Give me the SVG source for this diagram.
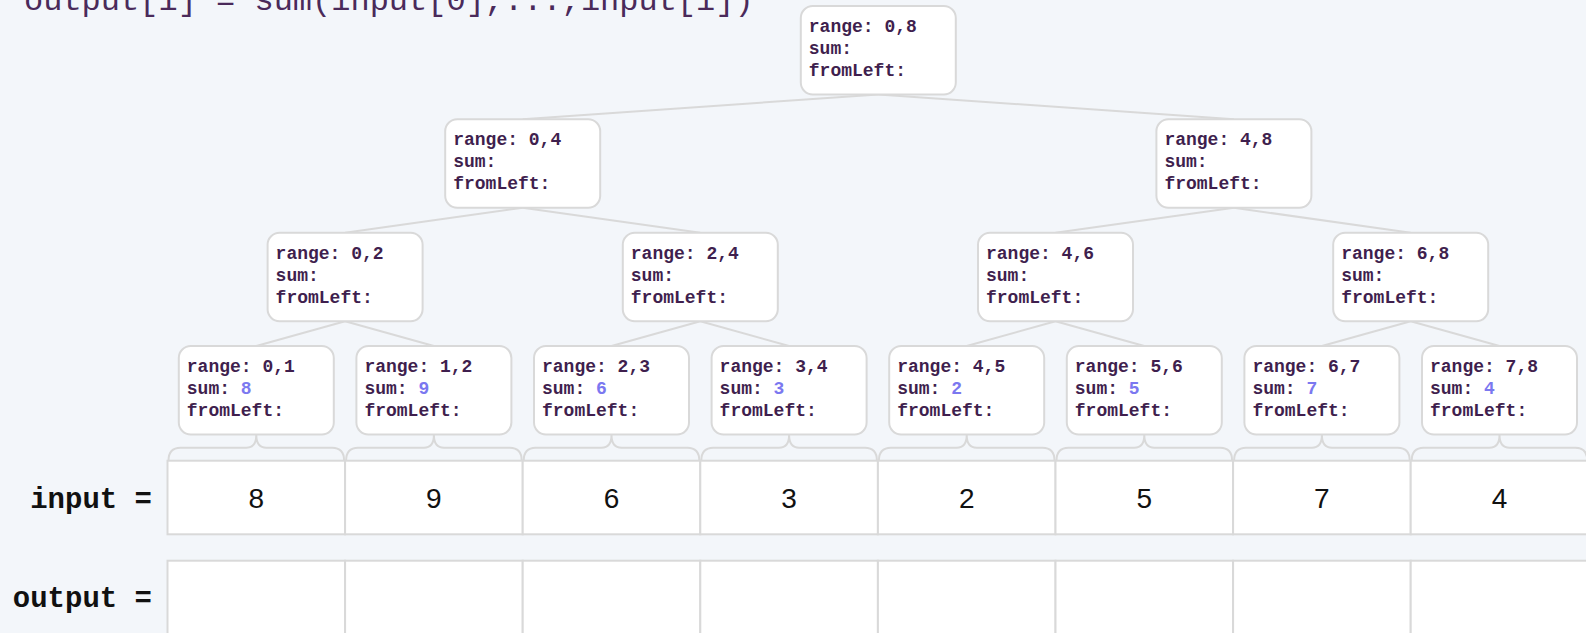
<svg xmlns="http://www.w3.org/2000/svg" width="1586" height="633" viewBox="0 0 1586 633">
<style>
.bg{fill:#f3f6fa}
.box{fill:#ffffff;stroke:#d9d9d9;stroke-width:2}
.t{font-family:"Liberation Mono","Courier New",monospace;font-weight:bold;font-size:18px;fill:#3f1f4e}
.v{fill:#7b78f0}
.edge{stroke:#d9d9d9;stroke-width:2;fill:none}
.brace{stroke:#d9d9d9;stroke-width:2;fill:none}
.cell{fill:#ffffff;stroke:#d9d9d9;stroke-width:2}
.num{font-family:"Liberation Sans",Arial,sans-serif;font-size:28px;fill:#111111;text-anchor:middle}
.lbl{font-family:"Liberation Mono","Courier New",monospace;font-weight:bold;font-size:29px;fill:#111111;text-anchor:end}
.title{font-family:"Liberation Mono","Courier New",monospace;font-size:32px;fill:#4a2a5a}
</style>
<defs>
<path id="br" d="M1,25.7 Q1,12.7 13,12.7 H78.8 Q88.8,12.7 88.8,0 Q88.8,12.7 98.8,12.7 H164.6 Q176.6,12.7 176.6,25.7"/>
<rect id="bx" x="0" y="0" width="155" height="88.5" rx="12" ry="12"/>
</defs>
<rect class="bg" x="0" y="0" width="1586" height="633"/>
<text class="title" x="24" y="10">output[i] = sum(input[0],...,input[i])</text>

<g id="connectors">
<line class="edge" x1="878.3" y1="94.5" x2="522.7" y2="119.3"/>
<line class="edge" x1="878.3" y1="94.5" x2="1233.9" y2="119.3"/>
<line class="edge" x1="522.7" y1="207.8" x2="345.1" y2="232.7"/>
<line class="edge" x1="522.7" y1="207.8" x2="700.3" y2="232.7"/>
<line class="edge" x1="1233.9" y1="207.8" x2="1055.5" y2="232.7"/>
<line class="edge" x1="1233.9" y1="207.8" x2="1410.7" y2="232.7"/>
<line class="edge" x1="345.1" y1="321.2" x2="256.3" y2="346"/>
<line class="edge" x1="345.1" y1="321.2" x2="433.9" y2="346"/>
<line class="edge" x1="700.3" y1="321.2" x2="611.5" y2="346"/>
<line class="edge" x1="700.3" y1="321.2" x2="789.1" y2="346"/>
<line class="edge" x1="1055.5" y1="321.2" x2="966.7" y2="346"/>
<line class="edge" x1="1055.5" y1="321.2" x2="1144.3" y2="346"/>
<line class="edge" x1="1410.7" y1="321.2" x2="1321.9" y2="346"/>
<line class="edge" x1="1410.7" y1="321.2" x2="1499.5" y2="346"/>
</g>

<g id="n-0-8" transform="translate(800.8,6)"><use href="#bx" class="box"/><text class="t" x="8" y="26">range: 0,8</text><text class="t" x="8" y="48">sum:</text><text class="t" x="8" y="70">fromLeft:</text></g>
<g id="n-0-4" transform="translate(445.2,119.3)"><use href="#bx" class="box"/><text class="t" x="8" y="26">range: 0,4</text><text class="t" x="8" y="48">sum:</text><text class="t" x="8" y="70">fromLeft:</text></g>
<g id="n-4-8" transform="translate(1156.4,119.3)"><use href="#bx" class="box"/><text class="t" x="8" y="26">range: 4,8</text><text class="t" x="8" y="48">sum:</text><text class="t" x="8" y="70">fromLeft:</text></g>
<g id="n-0-2" transform="translate(267.6,232.7)"><use href="#bx" class="box"/><text class="t" x="8" y="26">range: 0,2</text><text class="t" x="8" y="48">sum:</text><text class="t" x="8" y="70">fromLeft:</text></g>
<g id="n-2-4" transform="translate(622.8,232.7)"><use href="#bx" class="box"/><text class="t" x="8" y="26">range: 2,4</text><text class="t" x="8" y="48">sum:</text><text class="t" x="8" y="70">fromLeft:</text></g>
<g id="n-4-6" transform="translate(978,232.7)"><use href="#bx" class="box"/><text class="t" x="8" y="26">range: 4,6</text><text class="t" x="8" y="48">sum:</text><text class="t" x="8" y="70">fromLeft:</text></g>
<g id="n-6-8" transform="translate(1333.2,232.7)"><use href="#bx" class="box"/><text class="t" x="8" y="26">range: 6,8</text><text class="t" x="8" y="48">sum:</text><text class="t" x="8" y="70">fromLeft:</text></g>

<g id="n-0-1" transform="translate(178.8,346)"><use href="#bx" class="box"/><text class="t" x="8" y="26">range: 0,1</text><text class="t" x="8" y="48">sum: <tspan class="v">8</tspan></text><text class="t" x="8" y="70">fromLeft:</text></g>
<g id="n-1-2" transform="translate(356.4,346)"><use href="#bx" class="box"/><text class="t" x="8" y="26">range: 1,2</text><text class="t" x="8" y="48">sum: <tspan class="v">9</tspan></text><text class="t" x="8" y="70">fromLeft:</text></g>
<g id="n-2-3" transform="translate(534,346)"><use href="#bx" class="box"/><text class="t" x="8" y="26">range: 2,3</text><text class="t" x="8" y="48">sum: <tspan class="v">6</tspan></text><text class="t" x="8" y="70">fromLeft:</text></g>
<g id="n-3-4" transform="translate(711.6,346)"><use href="#bx" class="box"/><text class="t" x="8" y="26">range: 3,4</text><text class="t" x="8" y="48">sum: <tspan class="v">3</tspan></text><text class="t" x="8" y="70">fromLeft:</text></g>
<g id="n-4-5" transform="translate(889.2,346)"><use href="#bx" class="box"/><text class="t" x="8" y="26">range: 4,5</text><text class="t" x="8" y="48">sum: <tspan class="v">2</tspan></text><text class="t" x="8" y="70">fromLeft:</text></g>
<g id="n-5-6" transform="translate(1066.8,346)"><use href="#bx" class="box"/><text class="t" x="8" y="26">range: 5,6</text><text class="t" x="8" y="48">sum: <tspan class="v">5</tspan></text><text class="t" x="8" y="70">fromLeft:</text></g>
<g id="n-6-7" transform="translate(1244.4,346)"><use href="#bx" class="box"/><text class="t" x="8" y="26">range: 6,7</text><text class="t" x="8" y="48">sum: <tspan class="v">7</tspan></text><text class="t" x="8" y="70">fromLeft:</text></g>
<g id="n-7-8" transform="translate(1422,346)"><use href="#bx" class="box"/><text class="t" x="8" y="26">range: 7,8</text><text class="t" x="8" y="48">sum: <tspan class="v">4</tspan></text><text class="t" x="8" y="70">fromLeft:</text></g>

<g id="braces" class="brace">
<use href="#br" x="167.5" y="435"/>
<use href="#br" x="345.1" y="435"/>
<use href="#br" x="522.7" y="435"/>
<use href="#br" x="700.3" y="435"/>
<use href="#br" x="877.9" y="435"/>
<use href="#br" x="1055.5" y="435"/>
<use href="#br" x="1233.1" y="435"/>
<use href="#br" x="1410.7" y="435"/>
</g>

<g id="input">
<text class="lbl" x="152" y="508">input =</text>
<rect class="cell" x="167.5" y="460.7" width="177.6" height="73.6"/>
<rect class="cell" x="345.1" y="460.7" width="177.6" height="73.6"/>
<rect class="cell" x="522.7" y="460.7" width="177.6" height="73.6"/>
<rect class="cell" x="700.3" y="460.7" width="177.6" height="73.6"/>
<rect class="cell" x="877.9" y="460.7" width="177.6" height="73.6"/>
<rect class="cell" x="1055.5" y="460.7" width="177.6" height="73.6"/>
<rect class="cell" x="1233.1" y="460.7" width="177.6" height="73.6"/>
<rect class="cell" x="1410.7" y="460.7" width="177.6" height="73.6"/>
<text class="num" x="256.3" y="508">8</text>
<text class="num" x="433.9" y="508">9</text>
<text class="num" x="611.5" y="508">6</text>
<text class="num" x="789.1" y="508">3</text>
<text class="num" x="966.7" y="508">2</text>
<text class="num" x="1144.3" y="508">5</text>
<text class="num" x="1321.9" y="508">7</text>
<text class="num" x="1499.5" y="508">4</text>
</g>

<g id="output">
<text class="lbl" x="152" y="607">output =</text>
<rect class="cell" x="167.5" y="560.7" width="177.6" height="90"/>
<rect class="cell" x="345.1" y="560.7" width="177.6" height="90"/>
<rect class="cell" x="522.7" y="560.7" width="177.6" height="90"/>
<rect class="cell" x="700.3" y="560.7" width="177.6" height="90"/>
<rect class="cell" x="877.9" y="560.7" width="177.6" height="90"/>
<rect class="cell" x="1055.5" y="560.7" width="177.6" height="90"/>
<rect class="cell" x="1233.1" y="560.7" width="177.6" height="90"/>
<rect class="cell" x="1410.7" y="560.7" width="177.6" height="90"/>
</g>
</svg>
